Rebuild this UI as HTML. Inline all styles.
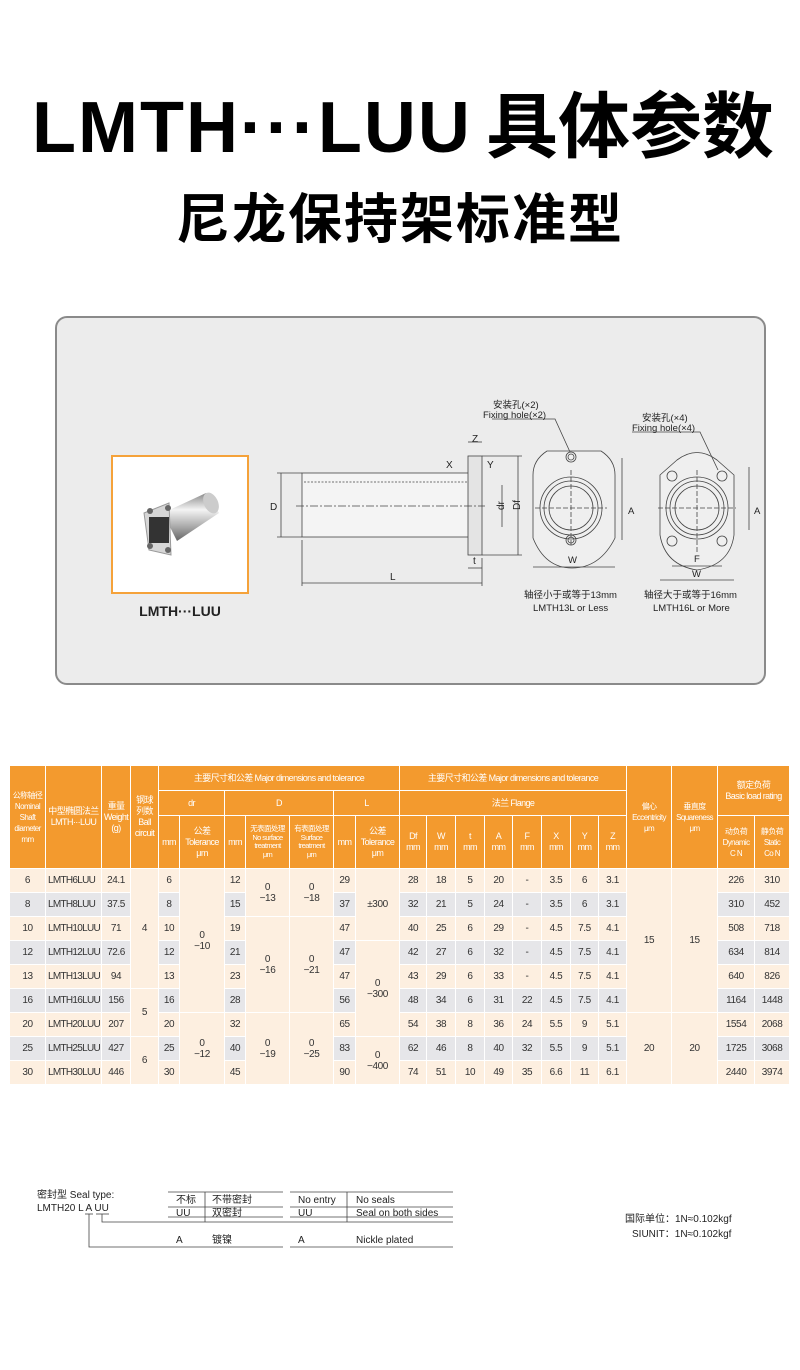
<!DOCTYPE html>
<html><head><meta charset="utf-8"><style>
*{margin:0;padding:0;box-sizing:border-box}
body{width:800px;height:1370px;background:#fff;position:relative;overflow:hidden;font-family:"Liberation Sans","Noto Sans CJK SC",sans-serif}
.abs{position:absolute}
.t1{left:0;top:88px;width:800px;height:80px;font-weight:bold;color:#000;font-size:72px;line-height:80px;white-space:nowrap}
.t2{left:0;top:188px;width:800px;text-align:center;font-weight:bold;color:#000;font-size:54px;line-height:64px;letter-spacing:2px}
.panel{left:55px;top:316px;width:711px;height:369px;background:#ececec;border:2px solid #8a8a8a;border-radius:12px}
table{position:absolute;left:9px;top:765px;border-collapse:collapse;table-layout:fixed;width:781px;font-family:"Liberation Sans","Noto Sans CJK SC",sans-serif;font-size:10px;color:#333;letter-spacing:-0.4px}
td,th{border:1.5px solid #fff;text-align:center;vertical-align:middle;padding:0;overflow:hidden;line-height:11px;white-space:nowrap}
th{background:#f39a2e;color:#fff;font-weight:normal;font-size:9px;letter-spacing:-0.6px}
td{height:24px;background:#fdefe0}
td.g{background:#e6e6e9}
.tl{text-align:left;padding-left:2px;letter-spacing:-0.7px}
.s{font-size:7.5px;line-height:8.5px}
</style></head><body>
<div class="abs t1"><span style="position:absolute;left:32px;letter-spacing:2px">LMTH···LUU</span><span style="position:absolute;left:486px;letter-spacing:0">具体参数</span></div>
<div class="abs t2">尼龙保持架标准型</div>
<div class="abs panel"></div>
<div class="abs" style="left:111px;top:455px;width:138px;height:139px;background:#fff;border:2px solid #f5a23a"></div>
<svg class="abs" style="left:111px;top:455px" width="138" height="139">
<defs><linearGradient id="cy" x1="0" y1="0" x2="0" y2="1"><stop offset="0" stop-color="#888"/><stop offset=".35" stop-color="#f4f4f4"/><stop offset=".7" stop-color="#aaa"/><stop offset="1" stop-color="#666"/></linearGradient></defs>
<polygon points="52,58 95,38 108,58 66,86" fill="url(#cy)"/>
<ellipse cx="100" cy="48" rx="7" ry="11" fill="#ccc" transform="rotate(-25 100 48)"/>
<path d="M33,58 L58,48 L60,100 L38,95 Z" fill="#d6d6d6" stroke="#999"/>
<rect x="38" y="62" width="20" height="26" fill="#333"/>
<circle cx="39" cy="56" r="3" fill="#666"/><circle cx="57" cy="53" r="3" fill="#666"/><circle cx="39" cy="91" r="3" fill="#666"/><circle cx="57" cy="95" r="3" fill="#666"/>
</svg>
<div class="abs" style="left:111px;top:603px;width:138px;text-align:center;font-weight:bold;font-size:14px;color:#222">LMTH···LUU</div>
<svg class="abs" style="left:260px;top:390px" width="520" height="230" font-family="Liberation Sans, Noto Sans CJK SC, sans-serif" font-size="9" fill="none" stroke="#444" stroke-width="0.8">
<rect x="42" y="83" width="169" height="64" fill="#f4f4f4"/>
<rect x="208" y="66" width="14" height="99" fill="#e4e4e4"/>
<line x1="44" y1="92" x2="208" y2="92" stroke-dasharray="2,1.5"/>
<line x1="36" y1="116" x2="225" y2="116" stroke-dasharray="8,2,2,2"/>
<line x1="21" y1="83" x2="21" y2="147"/><line x1="17" y1="83" x2="42" y2="83"/><line x1="17" y1="147" x2="42" y2="147"/>
<line x1="42" y1="193" x2="222" y2="193"/><line x1="42" y1="150" x2="42" y2="196"/><line x1="222" y1="168" x2="222" y2="196"/>
<line x1="258" y1="66" x2="258" y2="165"/><line x1="222" y1="66" x2="262" y2="66"/><line x1="222" y1="165" x2="262" y2="165"/>
<line x1="242" y1="95" x2="242" y2="137"/>
<line x1="208" y1="52" x2="222" y2="52"/><line x1="208" y1="178" x2="222" y2="178"/>
<g fill="#222" stroke="none" font-size="10">
<text x="10" y="120">D</text><text x="130" y="190">L</text><text x="240" y="124" transform="rotate(-90 240 120)">dr</text><text x="256" y="124" transform="rotate(-90 256 120)">Df</text>
<text x="212" y="52">Z</text><text x="186" y="78">X</text><text x="227" y="78">Y</text><text x="213" y="174">t</text>
</g>
<path d="M313,61 L341,61 Q355,70 355,85 L355,148 Q340,178 312,178 Q285,178 273,148 L273,85 Q273,70 287,61 Z" fill="#efefef"/>
<circle cx="311" cy="118" r="31"/><circle cx="311" cy="118" r="27"/><circle cx="311" cy="118" r="22"/>
<circle cx="311" cy="67" r="5"/><circle cx="311" cy="67" r="3"/><circle cx="311" cy="150" r="5"/><circle cx="311" cy="150" r="3"/>
<line x1="275" y1="118" x2="347" y2="118" stroke-dasharray="5,2"/><line x1="311" y1="80" x2="311" y2="156" stroke-dasharray="5,2"/>
<line x1="362" y1="68" x2="362" y2="150"/><line x1="273" y1="177" x2="355" y2="177"/>
<path d="M232,29 L295,29 L310,62"/>
<path d="M417,70 Q437,55 457,70 L474,85 L474,145 Q470,175 437,180 Q405,175 400,145 L400,85 Z" fill="#efefef"/>
<circle cx="437" cy="118" r="31"/><circle cx="437" cy="118" r="27"/><circle cx="437" cy="118" r="22"/>
<circle cx="412" cy="86" r="5"/><circle cx="462" cy="86" r="5"/><circle cx="412" cy="151" r="5"/><circle cx="462" cy="151" r="5"/>
<line x1="398" y1="118" x2="476" y2="118" stroke-dasharray="5,2"/><line x1="437" y1="80" x2="437" y2="162" stroke-dasharray="5,2"/>
<line x1="489" y1="77" x2="489" y2="140"/><line x1="412" y1="176" x2="462" y2="176"/><line x1="400" y1="190" x2="474" y2="190"/>
<path d="M372,42 L440,42 L458,80"/>
<g fill="#222" stroke="none" font-size="9.5">
<text x="368" y="124">A</text><text x="308" y="173">W</text><text x="494" y="124">A</text><text x="434" y="172">F</text><text x="432" y="187">W</text>
<text x="233" y="18">安装孔(×2)</text><text x="223" y="28">Fixing hole(×2)</text>
<text x="382" y="31">安装孔(×4)</text><text x="372" y="41">Fixing hole(×4)</text>
<text x="264" y="208">轴径小于或等于13mm</text><text x="273" y="221">LMTH13L or Less</text>
<text x="384" y="208">轴径大于或等于16mm</text><text x="393" y="221">LMTH16L or More</text>
</g>
</svg>
<table>
<colgroup><col style="width:36px"><col style="width:56px"><col style="width:29px"><col style="width:28px"><col style="width:21px"><col style="width:45px"><col style="width:21px"><col style="width:44px"><col style="width:44px"><col style="width:22px"><col style="width:44px"><col style="width:27px"><col style="width:29px"><col style="width:29px"><col style="width:28px"><col style="width:29px"><col style="width:29px"><col style="width:28px"><col style="width:28px"><col style="width:45px"><col style="width:46px"><col style="width:37px"><col style="width:35px"></colgroup>
<tr style="height:25px"><th rowspan="3" style="font-size:8px">公称轴径<br>Nominal<br>Shaft<br>diameter<br>mm</th><th rowspan="3">中型椭圆法兰<br>LMTH···LUU</th><th rowspan="3">重量<br>Weight<br>(g)</th><th rowspan="3">钢球<br>列数<br>Ball<br>circuit</th><th colspan="7">主要尺寸和公差 Major dimensions and tolerance</th><th colspan="8">主要尺寸和公差 Major dimensions and tolerance</th><th rowspan="3" style="font-size:8px">偏心<br>Eccentricity<br>μm</th><th rowspan="3" style="font-size:8px">垂直度<br>Squareness<br>μm</th><th colspan="2" rowspan="2">额定负荷<br>Basic load rating</th></tr>
<tr style="height:25px"><th colspan="2">dr</th><th colspan="3">D</th><th colspan="2">L</th><th colspan="8">法兰 Flange</th></tr>
<tr style="height:53px"><th>mm</th><th>公差<br>Tolerance<br>μm</th><th>mm</th><th class="s">无表面处理<br>No surface<br>treatment<br>μm</th><th class="s">有表面处理<br>Surface<br>treatment<br>μm</th><th>mm</th><th>公差<br>Tolerance<br>μm</th><th>Df<br>mm</th><th>W<br>mm</th><th>t<br>mm</th><th>A<br>mm</th><th>F<br>mm</th><th>X<br>mm</th><th>Y<br>mm</th><th>Z<br>mm</th><th style="font-size:8px">动负荷<br>Dynamic<br>C N</th><th style="font-size:8px">静负荷<br>Static<br>Co N</th></tr>
<tr><td>6</td><td class="tl">LMTH6LUU</td><td>24.1</td><td rowspan="5">4</td><td>6</td><td rowspan="6">0<br>−10</td><td>12</td><td rowspan="2">0<br>−13</td><td rowspan="2">0<br>−18</td><td>29</td><td rowspan="3">±300</td><td>28</td><td>18</td><td>5</td><td>20</td><td>-</td><td>3.5</td><td>6</td><td>3.1</td><td rowspan="6">15</td><td rowspan="6">15</td><td>226</td><td>310</td></tr>
<tr><td class="g">8</td><td class="g tl">LMTH8LUU</td><td class="g">37.5</td><td class="g">8</td><td class="g">15</td><td class="g">37</td><td class="g">32</td><td class="g">21</td><td class="g">5</td><td class="g">24</td><td class="g">-</td><td class="g">3.5</td><td class="g">6</td><td class="g">3.1</td><td class="g">310</td><td class="g">452</td></tr>
<tr><td>10</td><td class="tl">LMTH10LUU</td><td>71</td><td>10</td><td>19</td><td rowspan="4">0<br>−16</td><td rowspan="4">0<br>−21</td><td>47</td><td>40</td><td>25</td><td>6</td><td>29</td><td>-</td><td>4.5</td><td>7.5</td><td>4.1</td><td>508</td><td>718</td></tr>
<tr><td class="g">12</td><td class="g tl">LMTH12LUU</td><td class="g">72.6</td><td class="g">12</td><td class="g">21</td><td class="g">47</td><td rowspan="4">0<br>−300</td><td class="g">42</td><td class="g">27</td><td class="g">6</td><td class="g">32</td><td class="g">-</td><td class="g">4.5</td><td class="g">7.5</td><td class="g">4.1</td><td class="g">634</td><td class="g">814</td></tr>
<tr><td>13</td><td class="tl">LMTH13LUU</td><td>94</td><td>13</td><td>23</td><td>47</td><td>43</td><td>29</td><td>6</td><td>33</td><td>-</td><td>4.5</td><td>7.5</td><td>4.1</td><td>640</td><td>826</td></tr>
<tr><td class="g">16</td><td class="g tl">LMTH16LUU</td><td class="g">156</td><td rowspan="2">5</td><td class="g">16</td><td class="g">28</td><td class="g">56</td><td class="g">48</td><td class="g">34</td><td class="g">6</td><td class="g">31</td><td class="g">22</td><td class="g">4.5</td><td class="g">7.5</td><td class="g">4.1</td><td class="g">1164</td><td class="g">1448</td></tr>
<tr><td>20</td><td class="tl">LMTH20LUU</td><td>207</td><td>20</td><td rowspan="3">0<br>−12</td><td>32</td><td rowspan="3">0<br>−19</td><td rowspan="3">0<br>−25</td><td>65</td><td>54</td><td>38</td><td>8</td><td>36</td><td>24</td><td>5.5</td><td>9</td><td>5.1</td><td rowspan="3">20</td><td rowspan="3">20</td><td>1554</td><td>2068</td></tr>
<tr><td class="g">25</td><td class="g tl">LMTH25LUU</td><td class="g">427</td><td rowspan="2">6</td><td class="g">25</td><td class="g">40</td><td class="g">83</td><td rowspan="2">0<br>−400</td><td class="g">62</td><td class="g">46</td><td class="g">8</td><td class="g">40</td><td class="g">32</td><td class="g">5.5</td><td class="g">9</td><td class="g">5.1</td><td class="g">1725</td><td class="g">3068</td></tr>
<tr><td>30</td><td class="tl">LMTH30LUU</td><td>446</td><td>30</td><td>45</td><td>90</td><td>74</td><td>51</td><td>10</td><td>49</td><td>35</td><td>6.6</td><td>11</td><td>6.1</td><td>2440</td><td>3974</td></tr>
</table>
<svg class="abs" style="left:0;top:1180px" width="800" height="80" font-family="Liberation Sans, Noto Sans CJK SC, sans-serif" font-size="10" stroke="#444" stroke-width="0.8">
<line x1="168" y1="12" x2="283" y2="12"/><line x1="290" y1="12" x2="453" y2="12"/>
<line x1="168" y1="27" x2="283" y2="27"/><line x1="290" y1="27" x2="453" y2="27"/>
<line x1="168" y1="37" x2="283" y2="37"/><line x1="290" y1="37" x2="453" y2="37"/>
<line x1="205" y1="12" x2="205" y2="42"/><line x1="347" y1="12" x2="347" y2="42"/>
<polyline points="102,34 102,42 453,42" fill="none"/>
<polyline points="89,34 89,67 283,67" fill="none"/><line x1="290" y1="67" x2="453" y2="67"/>
<line x1="96" y1="34" x2="109" y2="34"/><line x1="85" y1="34" x2="93" y2="34"/>
<g fill="#222" stroke="none">
<text x="37" y="18">密封型 Seal type:</text><text x="37" y="31">LMTH20 L A UU</text>
<text x="176" y="23">不标</text><text x="212" y="23">不带密封</text><text x="298" y="23">No entry</text><text x="356" y="23">No seals</text>
<text x="176" y="36">UU</text><text x="212" y="36">双密封</text><text x="298" y="36">UU</text><text x="356" y="36">Seal on both sides</text>
<text x="176" y="63">A</text><text x="212" y="63">镀镍</text><text x="298" y="63">A</text><text x="356" y="63">Nickle plated</text>
<text x="625" y="42">国际单位：1N≈0.102kgf</text><text x="632" y="57">SIUNIT：1N≈0.102kgf</text>
</g>
</svg>
</body></html>
